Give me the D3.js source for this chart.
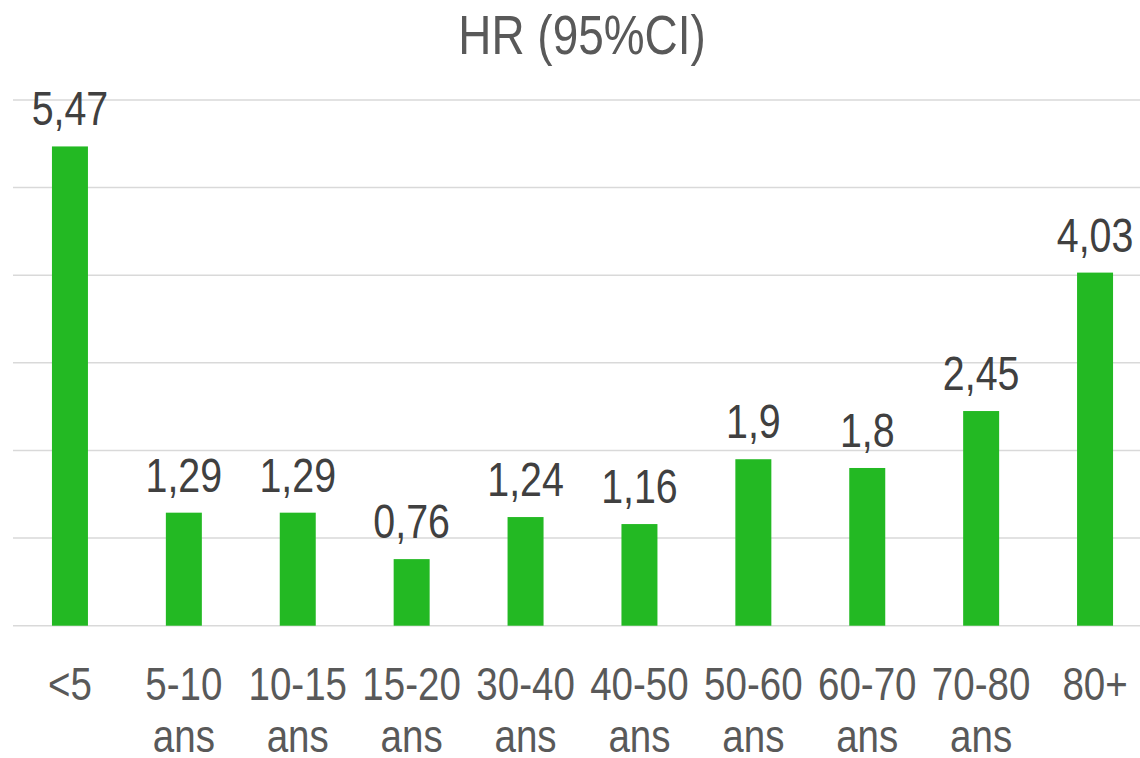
<!DOCTYPE html>
<html>
<head>
<meta charset="utf-8">
<script src="https://cdn.jsdelivr.net/npm/d3@7"></script>
<style>
  html, body { margin: 0; padding: 0; background: #fff; }
  svg { display: block; }
  text { font-family: "Liberation Sans Narrow", "Arial Narrow", "Liberation Sans", Arial, sans-serif; }
</style>
</head>
<body>
<svg id="chart" width="1140" height="758"></svg>
<script>
// Hazard ratios by age group
const categories = [["<5"], ["5-10", "ans"], ["10-15", "ans"], ["15-20", "ans"], ["30-40", "ans"],
  ["40-50", "ans"], ["50-60", "ans"], ["60-70", "ans"], ["70-80", "ans"], ["80+"]];
const hrValues = [5.47, 1.29, 1.29, 0.76, 1.24, 1.16, 1.9, 1.8, 2.45, 4.03];
const gridTicks = [0, 1, 2, 3, 4, 5, 6];
const title = "HR (95%CI)";

// narrow letterforms: the regular sans is squeezed horizontally
const narrow = 0.82;

const svg = d3.select("#chart");
const keys = categories.map(c => c.join(" "));

const x = d3.scaleBand()
  .domain(keys)
  .range([13, 1152])
  .paddingInner(0.684)
  .paddingOuter(0.342);

const y = d3.scaleLinear().domain([0, 6]).range([625.7, 100]);

const fmt = v => String(v).replace(".", ",");
const cx = i => x(keys[i]) + x.bandwidth() / 2;

// gridlines
svg.append("g")
  .selectAll("line")
  .data(gridTicks)
  .join("line")
  .attr("x1", 13).attr("x2", 1140)
  .attr("y1", d => y(d)).attr("y2", d => y(d))
  .attr("stroke", "#d9d9d9")
  .attr("stroke-width", 1.5);

// bars
svg.append("g")
  .selectAll("rect")
  .data(hrValues)
  .join("rect")
  .attr("x", (d, i) => x(keys[i]))
  .attr("width", x.bandwidth())
  .attr("y", d => y(d))
  .attr("height", d => y(0) - y(d))
  .attr("fill", "#23b923");

// value labels
svg.append("g")
  .selectAll("text")
  .data(hrValues)
  .join("text")
  .attr("transform", (d, i) => `translate(${cx(i)},${y(d) - 21}) scale(${narrow},1)`)
  .attr("text-anchor", "middle")
  .attr("font-size", 48)
  .attr("fill", "#404040")
  .text(d => fmt(d));

// category labels
const xl = svg.append("g")
  .selectAll("text")
  .data(categories)
  .join("text")
  .attr("transform", (d, i) => `translate(${cx(i)},700) scale(${narrow},1)`)
  .attr("text-anchor", "middle")
  .attr("font-size", 47)
  .attr("fill", "#595959");
xl.selectAll("tspan")
  .data(d => d)
  .join("tspan")
  .attr("x", 0)
  .attr("dy", (d, i) => i === 0 ? 0 : 52)
  .text(d => d);

// title
svg.append("text")
  .attr("transform", `translate(582,54.3) scale(${narrow},1)`)
  .attr("text-anchor", "middle")
  .attr("font-size", 56)
  .attr("fill", "#595959")
  .text(title);
</script>
</body>
</html>
